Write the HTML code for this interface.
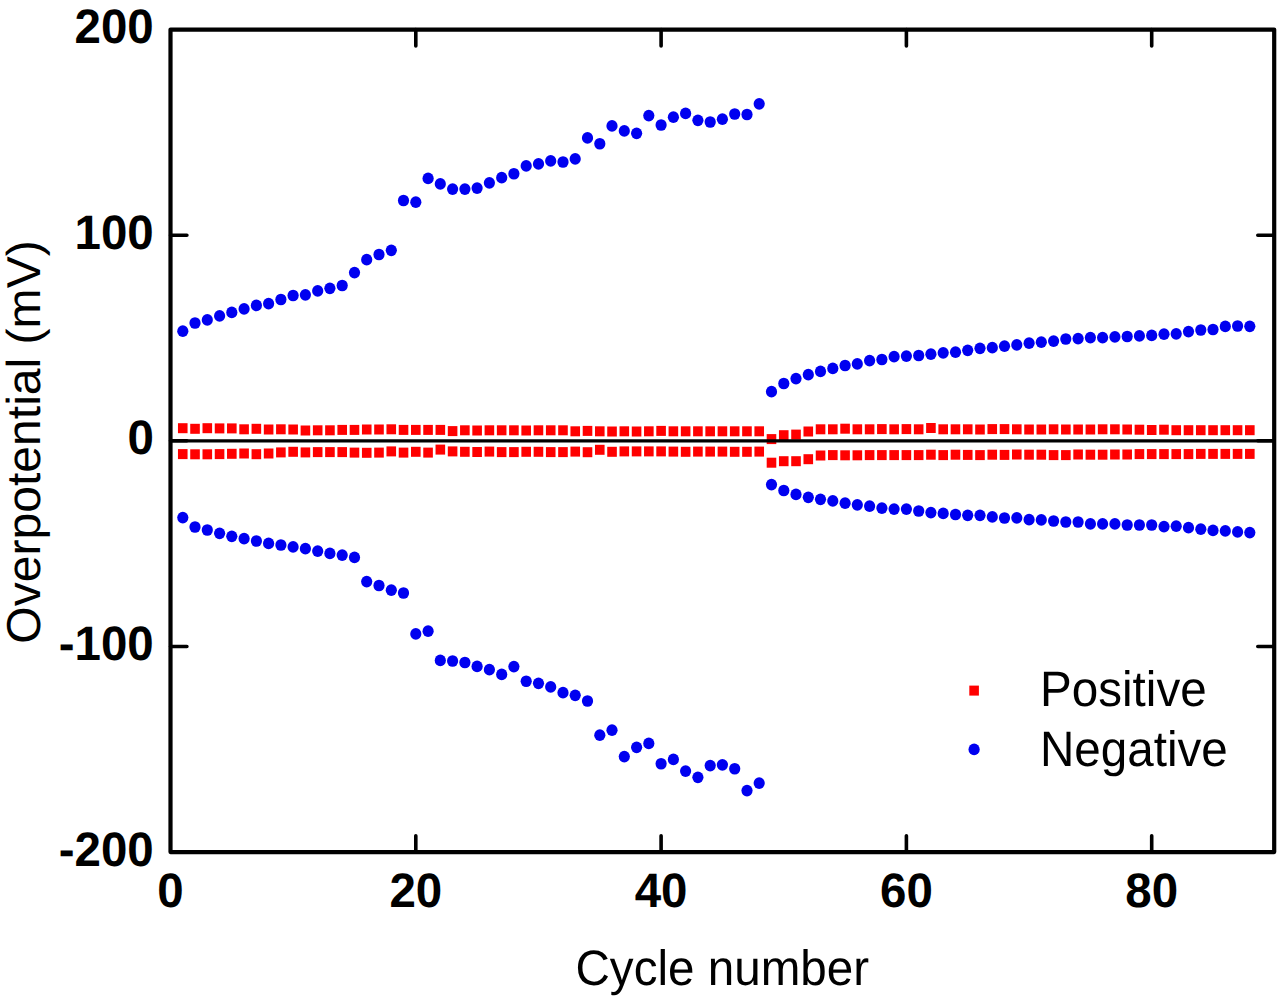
<!DOCTYPE html>
<html><head><meta charset="utf-8"><style>
html,body{margin:0;padding:0;background:#fff;}
body{width:1280px;height:997px;overflow:hidden;}
svg{display:block;}
text{font-family:"Liberation Sans",sans-serif;fill:#000;text-rendering:geometricPrecision;}
</style></head><body>
<svg width="1280" height="997" viewBox="0 0 1280 997">
<rect width="1280" height="997" fill="#fff"/>
<g fill="#ff0000">
<rect x="177.96" y="423.20" width="9.6" height="10.0"/>
<rect x="190.23" y="423.80" width="9.6" height="10.0"/>
<rect x="202.50" y="423.20" width="9.6" height="10.0"/>
<rect x="214.76" y="423.40" width="9.6" height="10.0"/>
<rect x="227.02" y="423.40" width="9.6" height="10.0"/>
<rect x="239.29" y="424.30" width="9.6" height="10.0"/>
<rect x="251.56" y="423.80" width="9.6" height="10.0"/>
<rect x="263.82" y="424.50" width="9.6" height="10.0"/>
<rect x="276.08" y="424.30" width="9.6" height="10.0"/>
<rect x="288.35" y="424.50" width="9.6" height="10.0"/>
<rect x="300.62" y="425.50" width="9.6" height="10.0"/>
<rect x="312.88" y="425.30" width="9.6" height="10.0"/>
<rect x="325.14" y="425.30" width="9.6" height="10.0"/>
<rect x="337.41" y="424.90" width="9.6" height="10.0"/>
<rect x="349.68" y="424.90" width="9.6" height="10.0"/>
<rect x="361.94" y="424.50" width="9.6" height="10.0"/>
<rect x="374.20" y="424.50" width="9.6" height="10.0"/>
<rect x="386.47" y="424.30" width="9.6" height="10.0"/>
<rect x="398.74" y="424.90" width="9.6" height="10.0"/>
<rect x="411.00" y="424.90" width="9.6" height="10.0"/>
<rect x="423.26" y="424.90" width="9.6" height="10.0"/>
<rect x="435.53" y="424.90" width="9.6" height="10.0"/>
<rect x="447.80" y="426.10" width="9.6" height="10.0"/>
<rect x="460.06" y="425.30" width="9.6" height="10.0"/>
<rect x="472.32" y="425.50" width="9.6" height="10.0"/>
<rect x="484.59" y="425.30" width="9.6" height="10.0"/>
<rect x="496.86" y="425.30" width="9.6" height="10.0"/>
<rect x="509.12" y="425.30" width="9.6" height="10.0"/>
<rect x="521.38" y="425.50" width="9.6" height="10.0"/>
<rect x="533.65" y="425.30" width="9.6" height="10.0"/>
<rect x="545.92" y="425.30" width="9.6" height="10.0"/>
<rect x="558.18" y="425.30" width="9.6" height="10.0"/>
<rect x="570.45" y="426.30" width="9.6" height="10.0"/>
<rect x="582.71" y="425.90" width="9.6" height="10.0"/>
<rect x="594.98" y="426.30" width="9.6" height="10.0"/>
<rect x="607.24" y="426.50" width="9.6" height="10.0"/>
<rect x="619.51" y="426.30" width="9.6" height="10.0"/>
<rect x="631.77" y="426.50" width="9.6" height="10.0"/>
<rect x="644.04" y="426.30" width="9.6" height="10.0"/>
<rect x="656.30" y="425.90" width="9.6" height="10.0"/>
<rect x="668.57" y="426.30" width="9.6" height="10.0"/>
<rect x="680.83" y="426.30" width="9.6" height="10.0"/>
<rect x="693.10" y="426.30" width="9.6" height="10.0"/>
<rect x="705.36" y="426.30" width="9.6" height="10.0"/>
<rect x="717.63" y="426.30" width="9.6" height="10.0"/>
<rect x="729.89" y="426.30" width="9.6" height="10.0"/>
<rect x="742.16" y="426.30" width="9.6" height="10.0"/>
<rect x="754.42" y="426.30" width="9.6" height="10.0"/>
<rect x="766.69" y="434.10" width="9.6" height="10.0"/>
<rect x="778.95" y="430.20" width="9.6" height="10.0"/>
<rect x="791.22" y="429.60" width="9.6" height="10.0"/>
<rect x="803.48" y="426.50" width="9.6" height="10.0"/>
<rect x="815.75" y="424.30" width="9.6" height="10.0"/>
<rect x="828.01" y="424.30" width="9.6" height="10.0"/>
<rect x="840.28" y="423.70" width="9.6" height="10.0"/>
<rect x="852.54" y="424.30" width="9.6" height="10.0"/>
<rect x="864.81" y="424.30" width="9.6" height="10.0"/>
<rect x="877.07" y="424.10" width="9.6" height="10.0"/>
<rect x="889.34" y="424.30" width="9.6" height="10.0"/>
<rect x="901.60" y="424.10" width="9.6" height="10.0"/>
<rect x="913.87" y="424.30" width="9.6" height="10.0"/>
<rect x="926.13" y="423.00" width="9.6" height="10.0"/>
<rect x="938.40" y="424.30" width="9.6" height="10.0"/>
<rect x="950.66" y="424.30" width="9.6" height="10.0"/>
<rect x="962.93" y="424.30" width="9.6" height="10.0"/>
<rect x="975.19" y="424.50" width="9.6" height="10.0"/>
<rect x="987.46" y="424.10" width="9.6" height="10.0"/>
<rect x="999.72" y="424.10" width="9.6" height="10.0"/>
<rect x="1011.99" y="424.30" width="9.6" height="10.0"/>
<rect x="1024.25" y="424.50" width="9.6" height="10.0"/>
<rect x="1036.52" y="424.50" width="9.6" height="10.0"/>
<rect x="1048.78" y="424.30" width="9.6" height="10.0"/>
<rect x="1061.05" y="424.50" width="9.6" height="10.0"/>
<rect x="1073.31" y="424.50" width="9.6" height="10.0"/>
<rect x="1085.58" y="424.50" width="9.6" height="10.0"/>
<rect x="1097.84" y="424.30" width="9.6" height="10.0"/>
<rect x="1110.11" y="424.30" width="9.6" height="10.0"/>
<rect x="1122.37" y="424.50" width="9.6" height="10.0"/>
<rect x="1134.63" y="424.70" width="9.6" height="10.0"/>
<rect x="1146.90" y="425.00" width="9.6" height="10.0"/>
<rect x="1159.17" y="424.70" width="9.6" height="10.0"/>
<rect x="1171.43" y="425.20" width="9.6" height="10.0"/>
<rect x="1183.69" y="425.20" width="9.6" height="10.0"/>
<rect x="1195.96" y="425.20" width="9.6" height="10.0"/>
<rect x="1208.23" y="425.20" width="9.6" height="10.0"/>
<rect x="1220.49" y="425.20" width="9.6" height="10.0"/>
<rect x="1232.76" y="425.20" width="9.6" height="10.0"/>
<rect x="1245.02" y="425.20" width="9.6" height="10.0"/>
<rect x="177.96" y="449.10" width="9.6" height="10.0"/>
<rect x="190.23" y="449.30" width="9.6" height="10.0"/>
<rect x="202.50" y="449.30" width="9.6" height="10.0"/>
<rect x="214.76" y="449.10" width="9.6" height="10.0"/>
<rect x="227.02" y="448.80" width="9.6" height="10.0"/>
<rect x="239.29" y="448.50" width="9.6" height="10.0"/>
<rect x="251.56" y="449.20" width="9.6" height="10.0"/>
<rect x="263.82" y="448.50" width="9.6" height="10.0"/>
<rect x="276.08" y="447.40" width="9.6" height="10.0"/>
<rect x="288.35" y="446.80" width="9.6" height="10.0"/>
<rect x="300.62" y="447.40" width="9.6" height="10.0"/>
<rect x="312.88" y="447.10" width="9.6" height="10.0"/>
<rect x="325.14" y="447.10" width="9.6" height="10.0"/>
<rect x="337.41" y="447.10" width="9.6" height="10.0"/>
<rect x="349.68" y="447.60" width="9.6" height="10.0"/>
<rect x="361.94" y="447.80" width="9.6" height="10.0"/>
<rect x="374.20" y="447.60" width="9.6" height="10.0"/>
<rect x="386.47" y="446.40" width="9.6" height="10.0"/>
<rect x="398.74" y="447.60" width="9.6" height="10.0"/>
<rect x="411.00" y="446.80" width="9.6" height="10.0"/>
<rect x="423.26" y="447.60" width="9.6" height="10.0"/>
<rect x="435.53" y="444.60" width="9.6" height="10.0"/>
<rect x="447.80" y="446.40" width="9.6" height="10.0"/>
<rect x="460.06" y="446.80" width="9.6" height="10.0"/>
<rect x="472.32" y="447.00" width="9.6" height="10.0"/>
<rect x="484.59" y="446.60" width="9.6" height="10.0"/>
<rect x="496.86" y="447.10" width="9.6" height="10.0"/>
<rect x="509.12" y="447.10" width="9.6" height="10.0"/>
<rect x="521.38" y="446.80" width="9.6" height="10.0"/>
<rect x="533.65" y="446.80" width="9.6" height="10.0"/>
<rect x="545.92" y="447.10" width="9.6" height="10.0"/>
<rect x="558.18" y="447.10" width="9.6" height="10.0"/>
<rect x="570.45" y="446.60" width="9.6" height="10.0"/>
<rect x="582.71" y="447.20" width="9.6" height="10.0"/>
<rect x="594.98" y="444.80" width="9.6" height="10.0"/>
<rect x="607.24" y="446.80" width="9.6" height="10.0"/>
<rect x="619.51" y="446.40" width="9.6" height="10.0"/>
<rect x="631.77" y="446.40" width="9.6" height="10.0"/>
<rect x="644.04" y="446.40" width="9.6" height="10.0"/>
<rect x="656.30" y="446.40" width="9.6" height="10.0"/>
<rect x="668.57" y="446.60" width="9.6" height="10.0"/>
<rect x="680.83" y="446.80" width="9.6" height="10.0"/>
<rect x="693.10" y="446.60" width="9.6" height="10.0"/>
<rect x="705.36" y="446.60" width="9.6" height="10.0"/>
<rect x="717.63" y="446.60" width="9.6" height="10.0"/>
<rect x="729.89" y="446.80" width="9.6" height="10.0"/>
<rect x="742.16" y="446.80" width="9.6" height="10.0"/>
<rect x="754.42" y="446.60" width="9.6" height="10.0"/>
<rect x="766.69" y="457.70" width="9.6" height="10.0"/>
<rect x="778.95" y="456.20" width="9.6" height="10.0"/>
<rect x="791.22" y="456.20" width="9.6" height="10.0"/>
<rect x="803.48" y="454.20" width="9.6" height="10.0"/>
<rect x="815.75" y="450.50" width="9.6" height="10.0"/>
<rect x="828.01" y="450.10" width="9.6" height="10.0"/>
<rect x="840.28" y="450.30" width="9.6" height="10.0"/>
<rect x="852.54" y="450.30" width="9.6" height="10.0"/>
<rect x="864.81" y="450.10" width="9.6" height="10.0"/>
<rect x="877.07" y="450.10" width="9.6" height="10.0"/>
<rect x="889.34" y="450.10" width="9.6" height="10.0"/>
<rect x="901.60" y="450.10" width="9.6" height="10.0"/>
<rect x="913.87" y="450.10" width="9.6" height="10.0"/>
<rect x="926.13" y="449.70" width="9.6" height="10.0"/>
<rect x="938.40" y="450.10" width="9.6" height="10.0"/>
<rect x="950.66" y="449.70" width="9.6" height="10.0"/>
<rect x="962.93" y="449.90" width="9.6" height="10.0"/>
<rect x="975.19" y="450.10" width="9.6" height="10.0"/>
<rect x="987.46" y="449.70" width="9.6" height="10.0"/>
<rect x="999.72" y="449.90" width="9.6" height="10.0"/>
<rect x="1011.99" y="449.50" width="9.6" height="10.0"/>
<rect x="1024.25" y="449.70" width="9.6" height="10.0"/>
<rect x="1036.52" y="449.70" width="9.6" height="10.0"/>
<rect x="1048.78" y="450.10" width="9.6" height="10.0"/>
<rect x="1061.05" y="450.10" width="9.6" height="10.0"/>
<rect x="1073.31" y="449.50" width="9.6" height="10.0"/>
<rect x="1085.58" y="449.70" width="9.6" height="10.0"/>
<rect x="1097.84" y="449.70" width="9.6" height="10.0"/>
<rect x="1110.11" y="449.50" width="9.6" height="10.0"/>
<rect x="1122.37" y="449.50" width="9.6" height="10.0"/>
<rect x="1134.63" y="449.10" width="9.6" height="10.0"/>
<rect x="1146.90" y="449.10" width="9.6" height="10.0"/>
<rect x="1159.17" y="449.10" width="9.6" height="10.0"/>
<rect x="1171.43" y="449.10" width="9.6" height="10.0"/>
<rect x="1183.69" y="449.10" width="9.6" height="10.0"/>
<rect x="1195.96" y="448.90" width="9.6" height="10.0"/>
<rect x="1208.23" y="448.90" width="9.6" height="10.0"/>
<rect x="1220.49" y="448.90" width="9.6" height="10.0"/>
<rect x="1232.76" y="448.90" width="9.6" height="10.0"/>
<rect x="1245.02" y="448.90" width="9.6" height="10.0"/>
</g>
<g fill="#0000f0">
<ellipse cx="182.8" cy="331.2" rx="5.6" ry="5.85"/>
<ellipse cx="195.0" cy="323" rx="5.6" ry="5.85"/>
<ellipse cx="207.3" cy="319.9" rx="5.6" ry="5.85"/>
<ellipse cx="219.6" cy="315.9" rx="5.6" ry="5.85"/>
<ellipse cx="231.8" cy="312.4" rx="5.6" ry="5.85"/>
<ellipse cx="244.1" cy="308.9" rx="5.6" ry="5.85"/>
<ellipse cx="256.4" cy="305.4" rx="5.6" ry="5.85"/>
<ellipse cx="268.6" cy="303.7" rx="5.6" ry="5.85"/>
<ellipse cx="280.9" cy="299.5" rx="5.6" ry="5.85"/>
<ellipse cx="293.1" cy="295.5" rx="5.6" ry="5.85"/>
<ellipse cx="305.4" cy="294.8" rx="5.6" ry="5.85"/>
<ellipse cx="317.7" cy="290.9" rx="5.6" ry="5.85"/>
<ellipse cx="329.9" cy="288.3" rx="5.6" ry="5.85"/>
<ellipse cx="342.2" cy="285.5" rx="5.6" ry="5.85"/>
<ellipse cx="354.5" cy="272.6" rx="5.6" ry="5.85"/>
<ellipse cx="366.7" cy="259.7" rx="5.6" ry="5.85"/>
<ellipse cx="379.0" cy="254.5" rx="5.6" ry="5.85"/>
<ellipse cx="391.3" cy="250.3" rx="5.6" ry="5.85"/>
<ellipse cx="403.5" cy="200.5" rx="5.6" ry="5.85"/>
<ellipse cx="415.8" cy="202.2" rx="5.6" ry="5.85"/>
<ellipse cx="428.1" cy="178.4" rx="5.6" ry="5.85"/>
<ellipse cx="440.3" cy="183.9" rx="5.6" ry="5.85"/>
<ellipse cx="452.6" cy="189.1" rx="5.6" ry="5.85"/>
<ellipse cx="464.9" cy="189.1" rx="5.6" ry="5.85"/>
<ellipse cx="477.1" cy="188.1" rx="5.6" ry="5.85"/>
<ellipse cx="489.4" cy="182.8" rx="5.6" ry="5.85"/>
<ellipse cx="501.7" cy="177.7" rx="5.6" ry="5.85"/>
<ellipse cx="513.9" cy="173.75" rx="5.6" ry="5.85"/>
<ellipse cx="526.2" cy="165.9" rx="5.6" ry="5.85"/>
<ellipse cx="538.5" cy="163.9" rx="5.6" ry="5.85"/>
<ellipse cx="550.7" cy="160.9" rx="5.6" ry="5.85"/>
<ellipse cx="563.0" cy="162" rx="5.6" ry="5.85"/>
<ellipse cx="575.2" cy="158.9" rx="5.6" ry="5.85"/>
<ellipse cx="587.5" cy="137.9" rx="5.6" ry="5.85"/>
<ellipse cx="599.8" cy="143.75" rx="5.6" ry="5.85"/>
<ellipse cx="612.0" cy="125.9" rx="5.6" ry="5.85"/>
<ellipse cx="624.3" cy="130.9" rx="5.6" ry="5.85"/>
<ellipse cx="636.6" cy="133.3" rx="5.6" ry="5.85"/>
<ellipse cx="648.8" cy="115.6" rx="5.6" ry="5.85"/>
<ellipse cx="661.1" cy="125" rx="5.6" ry="5.85"/>
<ellipse cx="673.4" cy="117.2" rx="5.6" ry="5.85"/>
<ellipse cx="685.6" cy="113.4" rx="5.6" ry="5.85"/>
<ellipse cx="697.9" cy="120.3" rx="5.6" ry="5.85"/>
<ellipse cx="710.2" cy="122" rx="5.6" ry="5.85"/>
<ellipse cx="722.4" cy="119.2" rx="5.6" ry="5.85"/>
<ellipse cx="734.7" cy="114" rx="5.6" ry="5.85"/>
<ellipse cx="747.0" cy="114.5" rx="5.6" ry="5.85"/>
<ellipse cx="759.2" cy="103.8" rx="5.6" ry="5.85"/>
<ellipse cx="771.5" cy="391.7" rx="5.6" ry="5.85"/>
<ellipse cx="783.8" cy="383.5" rx="5.6" ry="5.85"/>
<ellipse cx="796.0" cy="378.6" rx="5.6" ry="5.85"/>
<ellipse cx="808.3" cy="374.7" rx="5.6" ry="5.85"/>
<ellipse cx="820.5" cy="371.4" rx="5.6" ry="5.85"/>
<ellipse cx="832.8" cy="368.4" rx="5.6" ry="5.85"/>
<ellipse cx="845.1" cy="365.5" rx="5.6" ry="5.85"/>
<ellipse cx="857.3" cy="363.9" rx="5.6" ry="5.85"/>
<ellipse cx="869.6" cy="360.6" rx="5.6" ry="5.85"/>
<ellipse cx="881.9" cy="359.5" rx="5.6" ry="5.85"/>
<ellipse cx="894.1" cy="356.7" rx="5.6" ry="5.85"/>
<ellipse cx="906.4" cy="356.1" rx="5.6" ry="5.85"/>
<ellipse cx="918.7" cy="355.5" rx="5.6" ry="5.85"/>
<ellipse cx="930.9" cy="354.2" rx="5.6" ry="5.85"/>
<ellipse cx="943.2" cy="352.8" rx="5.6" ry="5.85"/>
<ellipse cx="955.5" cy="352.2" rx="5.6" ry="5.85"/>
<ellipse cx="967.7" cy="350.3" rx="5.6" ry="5.85"/>
<ellipse cx="980.0" cy="348.3" rx="5.6" ry="5.85"/>
<ellipse cx="992.3" cy="347.7" rx="5.6" ry="5.85"/>
<ellipse cx="1004.5" cy="346.2" rx="5.6" ry="5.85"/>
<ellipse cx="1016.8" cy="344.9" rx="5.6" ry="5.85"/>
<ellipse cx="1029.1" cy="343.2" rx="5.6" ry="5.85"/>
<ellipse cx="1041.3" cy="342.2" rx="5.6" ry="5.85"/>
<ellipse cx="1053.6" cy="341.1" rx="5.6" ry="5.85"/>
<ellipse cx="1065.8" cy="339" rx="5.6" ry="5.85"/>
<ellipse cx="1078.1" cy="338.6" rx="5.6" ry="5.85"/>
<ellipse cx="1090.4" cy="337.6" rx="5.6" ry="5.85"/>
<ellipse cx="1102.6" cy="337.6" rx="5.6" ry="5.85"/>
<ellipse cx="1114.9" cy="336.9" rx="5.6" ry="5.85"/>
<ellipse cx="1127.2" cy="336.5" rx="5.6" ry="5.85"/>
<ellipse cx="1139.4" cy="335.9" rx="5.6" ry="5.85"/>
<ellipse cx="1151.7" cy="335.4" rx="5.6" ry="5.85"/>
<ellipse cx="1164.0" cy="334.2" rx="5.6" ry="5.85"/>
<ellipse cx="1176.2" cy="333.8" rx="5.6" ry="5.85"/>
<ellipse cx="1188.5" cy="331.6" rx="5.6" ry="5.85"/>
<ellipse cx="1200.8" cy="330" rx="5.6" ry="5.85"/>
<ellipse cx="1213.0" cy="329.5" rx="5.6" ry="5.85"/>
<ellipse cx="1225.3" cy="326.4" rx="5.6" ry="5.85"/>
<ellipse cx="1237.6" cy="326" rx="5.6" ry="5.85"/>
<ellipse cx="1249.8" cy="326.3" rx="5.6" ry="5.85"/>
<ellipse cx="182.8" cy="517.6" rx="5.6" ry="5.85"/>
<ellipse cx="195.0" cy="527" rx="5.6" ry="5.85"/>
<ellipse cx="207.3" cy="530" rx="5.6" ry="5.85"/>
<ellipse cx="219.6" cy="533.3" rx="5.6" ry="5.85"/>
<ellipse cx="231.8" cy="536.3" rx="5.6" ry="5.85"/>
<ellipse cx="244.1" cy="538.7" rx="5.6" ry="5.85"/>
<ellipse cx="256.4" cy="541" rx="5.6" ry="5.85"/>
<ellipse cx="268.6" cy="543.4" rx="5.6" ry="5.85"/>
<ellipse cx="280.9" cy="545" rx="5.6" ry="5.85"/>
<ellipse cx="293.1" cy="546.9" rx="5.6" ry="5.85"/>
<ellipse cx="305.4" cy="548.7" rx="5.6" ry="5.85"/>
<ellipse cx="317.7" cy="551.1" rx="5.6" ry="5.85"/>
<ellipse cx="329.9" cy="553.4" rx="5.6" ry="5.85"/>
<ellipse cx="342.2" cy="555.1" rx="5.6" ry="5.85"/>
<ellipse cx="354.5" cy="557.4" rx="5.6" ry="5.85"/>
<ellipse cx="366.7" cy="581.6" rx="5.6" ry="5.85"/>
<ellipse cx="379.0" cy="585.5" rx="5.6" ry="5.85"/>
<ellipse cx="391.3" cy="590.2" rx="5.6" ry="5.85"/>
<ellipse cx="403.5" cy="593" rx="5.6" ry="5.85"/>
<ellipse cx="415.8" cy="633.9" rx="5.6" ry="5.85"/>
<ellipse cx="428.1" cy="631.2" rx="5.6" ry="5.85"/>
<ellipse cx="440.3" cy="660.4" rx="5.6" ry="5.85"/>
<ellipse cx="452.6" cy="661" rx="5.6" ry="5.85"/>
<ellipse cx="464.9" cy="662.5" rx="5.6" ry="5.85"/>
<ellipse cx="477.1" cy="666.4" rx="5.6" ry="5.85"/>
<ellipse cx="489.4" cy="669.7" rx="5.6" ry="5.85"/>
<ellipse cx="501.7" cy="674.4" rx="5.6" ry="5.85"/>
<ellipse cx="513.9" cy="666.6" rx="5.6" ry="5.85"/>
<ellipse cx="526.2" cy="681.25" rx="5.6" ry="5.85"/>
<ellipse cx="538.5" cy="683.3" rx="5.6" ry="5.85"/>
<ellipse cx="550.7" cy="686.9" rx="5.6" ry="5.85"/>
<ellipse cx="563.0" cy="692.7" rx="5.6" ry="5.85"/>
<ellipse cx="575.2" cy="695.3" rx="5.6" ry="5.85"/>
<ellipse cx="587.5" cy="701" rx="5.6" ry="5.85"/>
<ellipse cx="599.8" cy="735.2" rx="5.6" ry="5.85"/>
<ellipse cx="612.0" cy="730.2" rx="5.6" ry="5.85"/>
<ellipse cx="624.3" cy="756.6" rx="5.6" ry="5.85"/>
<ellipse cx="636.6" cy="747.3" rx="5.6" ry="5.85"/>
<ellipse cx="648.8" cy="743.4" rx="5.6" ry="5.85"/>
<ellipse cx="661.1" cy="763.75" rx="5.6" ry="5.85"/>
<ellipse cx="673.4" cy="759.4" rx="5.6" ry="5.85"/>
<ellipse cx="685.6" cy="771.1" rx="5.6" ry="5.85"/>
<ellipse cx="697.9" cy="777.3" rx="5.6" ry="5.85"/>
<ellipse cx="710.2" cy="765.6" rx="5.6" ry="5.85"/>
<ellipse cx="722.4" cy="764.8" rx="5.6" ry="5.85"/>
<ellipse cx="734.7" cy="768.75" rx="5.6" ry="5.85"/>
<ellipse cx="747.0" cy="790.6" rx="5.6" ry="5.85"/>
<ellipse cx="759.2" cy="783.1" rx="5.6" ry="5.85"/>
<ellipse cx="771.5" cy="484.6" rx="5.6" ry="5.85"/>
<ellipse cx="783.8" cy="490.5" rx="5.6" ry="5.85"/>
<ellipse cx="796.0" cy="494.4" rx="5.6" ry="5.85"/>
<ellipse cx="808.3" cy="497.3" rx="5.6" ry="5.85"/>
<ellipse cx="820.5" cy="499.3" rx="5.6" ry="5.85"/>
<ellipse cx="832.8" cy="500.9" rx="5.6" ry="5.85"/>
<ellipse cx="845.1" cy="503.2" rx="5.6" ry="5.85"/>
<ellipse cx="857.3" cy="504.8" rx="5.6" ry="5.85"/>
<ellipse cx="869.6" cy="506.1" rx="5.6" ry="5.85"/>
<ellipse cx="881.9" cy="508.1" rx="5.6" ry="5.85"/>
<ellipse cx="894.1" cy="509.1" rx="5.6" ry="5.85"/>
<ellipse cx="906.4" cy="509.1" rx="5.6" ry="5.85"/>
<ellipse cx="918.7" cy="511" rx="5.6" ry="5.85"/>
<ellipse cx="930.9" cy="512.6" rx="5.6" ry="5.85"/>
<ellipse cx="943.2" cy="513.4" rx="5.6" ry="5.85"/>
<ellipse cx="955.5" cy="514.5" rx="5.6" ry="5.85"/>
<ellipse cx="967.7" cy="515.3" rx="5.6" ry="5.85"/>
<ellipse cx="980.0" cy="515.3" rx="5.6" ry="5.85"/>
<ellipse cx="992.3" cy="516.9" rx="5.6" ry="5.85"/>
<ellipse cx="1004.5" cy="518" rx="5.6" ry="5.85"/>
<ellipse cx="1016.8" cy="517.8" rx="5.6" ry="5.85"/>
<ellipse cx="1029.1" cy="519.7" rx="5.6" ry="5.85"/>
<ellipse cx="1041.3" cy="519.9" rx="5.6" ry="5.85"/>
<ellipse cx="1053.6" cy="521" rx="5.6" ry="5.85"/>
<ellipse cx="1065.8" cy="522" rx="5.6" ry="5.85"/>
<ellipse cx="1078.1" cy="522" rx="5.6" ry="5.85"/>
<ellipse cx="1090.4" cy="523.9" rx="5.6" ry="5.85"/>
<ellipse cx="1102.6" cy="523.9" rx="5.6" ry="5.85"/>
<ellipse cx="1114.9" cy="523.9" rx="5.6" ry="5.85"/>
<ellipse cx="1127.2" cy="525" rx="5.6" ry="5.85"/>
<ellipse cx="1139.4" cy="525" rx="5.6" ry="5.85"/>
<ellipse cx="1151.7" cy="525" rx="5.6" ry="5.85"/>
<ellipse cx="1164.0" cy="526.6" rx="5.6" ry="5.85"/>
<ellipse cx="1176.2" cy="526.2" rx="5.6" ry="5.85"/>
<ellipse cx="1188.5" cy="527.7" rx="5.6" ry="5.85"/>
<ellipse cx="1200.8" cy="529.2" rx="5.6" ry="5.85"/>
<ellipse cx="1213.0" cy="530.4" rx="5.6" ry="5.85"/>
<ellipse cx="1225.3" cy="530.9" rx="5.6" ry="5.85"/>
<ellipse cx="1237.6" cy="531.9" rx="5.6" ry="5.85"/>
<ellipse cx="1249.8" cy="532.6" rx="5.6" ry="5.85"/>
</g>
<path d="M170.5 440.8H1274.2" stroke="#000" stroke-width="3.2" fill="none"/>
<path d="M415.8 852.1V835.7M415.8 29.6V46.0M661.1 852.1V835.7M661.1 29.6V46.0M906.4 852.1V835.7M906.4 29.6V46.0M1151.7 852.1V835.7M1151.7 29.6V46.0M170.5 235.3H186.9M1274.2 235.3H1257.8M170.5 646.5H186.9M1274.2 646.5H1257.8M170.5 440.8H186.9M1274.2 440.8H1257.8" stroke="#000" stroke-width="3.6" stroke-linecap="round" fill="none"/>
<rect x="170.5" y="29.6" width="1103.7" height="822.5" fill="none" stroke="#000" stroke-width="4.2" stroke-linejoin="round"/>
<g font-size="47.5" font-weight="bold">
<text transform="translate(153.8 43.0) scale(1 1.02)" text-anchor="end">200</text>
<text transform="translate(153.8 248.7) scale(1 1.02)" text-anchor="end">100</text>
<text transform="translate(153.8 454.2) scale(1 1.02)" text-anchor="end">0</text>
<text transform="translate(153.8 659.9) scale(1 1.02)" text-anchor="end">-100</text>
<text transform="translate(153.8 865.5) scale(1 1.02)" text-anchor="end">-200</text>
<text transform="translate(170.5 907.2) scale(1 1.02)" text-anchor="middle">0</text>
<text transform="translate(415.8 907.2) scale(1 1.02)" text-anchor="middle">20</text>
<text transform="translate(661.1 907.2) scale(1 1.02)" text-anchor="middle">40</text>
<text transform="translate(906.4 907.2) scale(1 1.02)" text-anchor="middle">60</text>
<text transform="translate(1151.7 907.2) scale(1 1.02)" text-anchor="middle">80</text>
</g>
<g font-size="47.6">
<text transform="translate(722.3 985.3) scale(1 1.045)" text-anchor="middle">Cycle number</text>
<text transform="translate(39.9 442.0) rotate(-90) scale(1.012 1)" font-size="47.5" text-anchor="middle">Overpotential (mV)</text>
<text transform="translate(1040 706.2) scale(1 1.045)">Positive</text>
<text transform="translate(1040 765.6) scale(1 1.045)">Negative</text>
</g>
<rect x="969.30" y="685.60" width="9.6" height="10.0" fill="#ff0000"/>
<ellipse cx="974.1" cy="749.4" rx="5.6" ry="5.85" fill="#0000f0"/>
</svg>
</body></html>
